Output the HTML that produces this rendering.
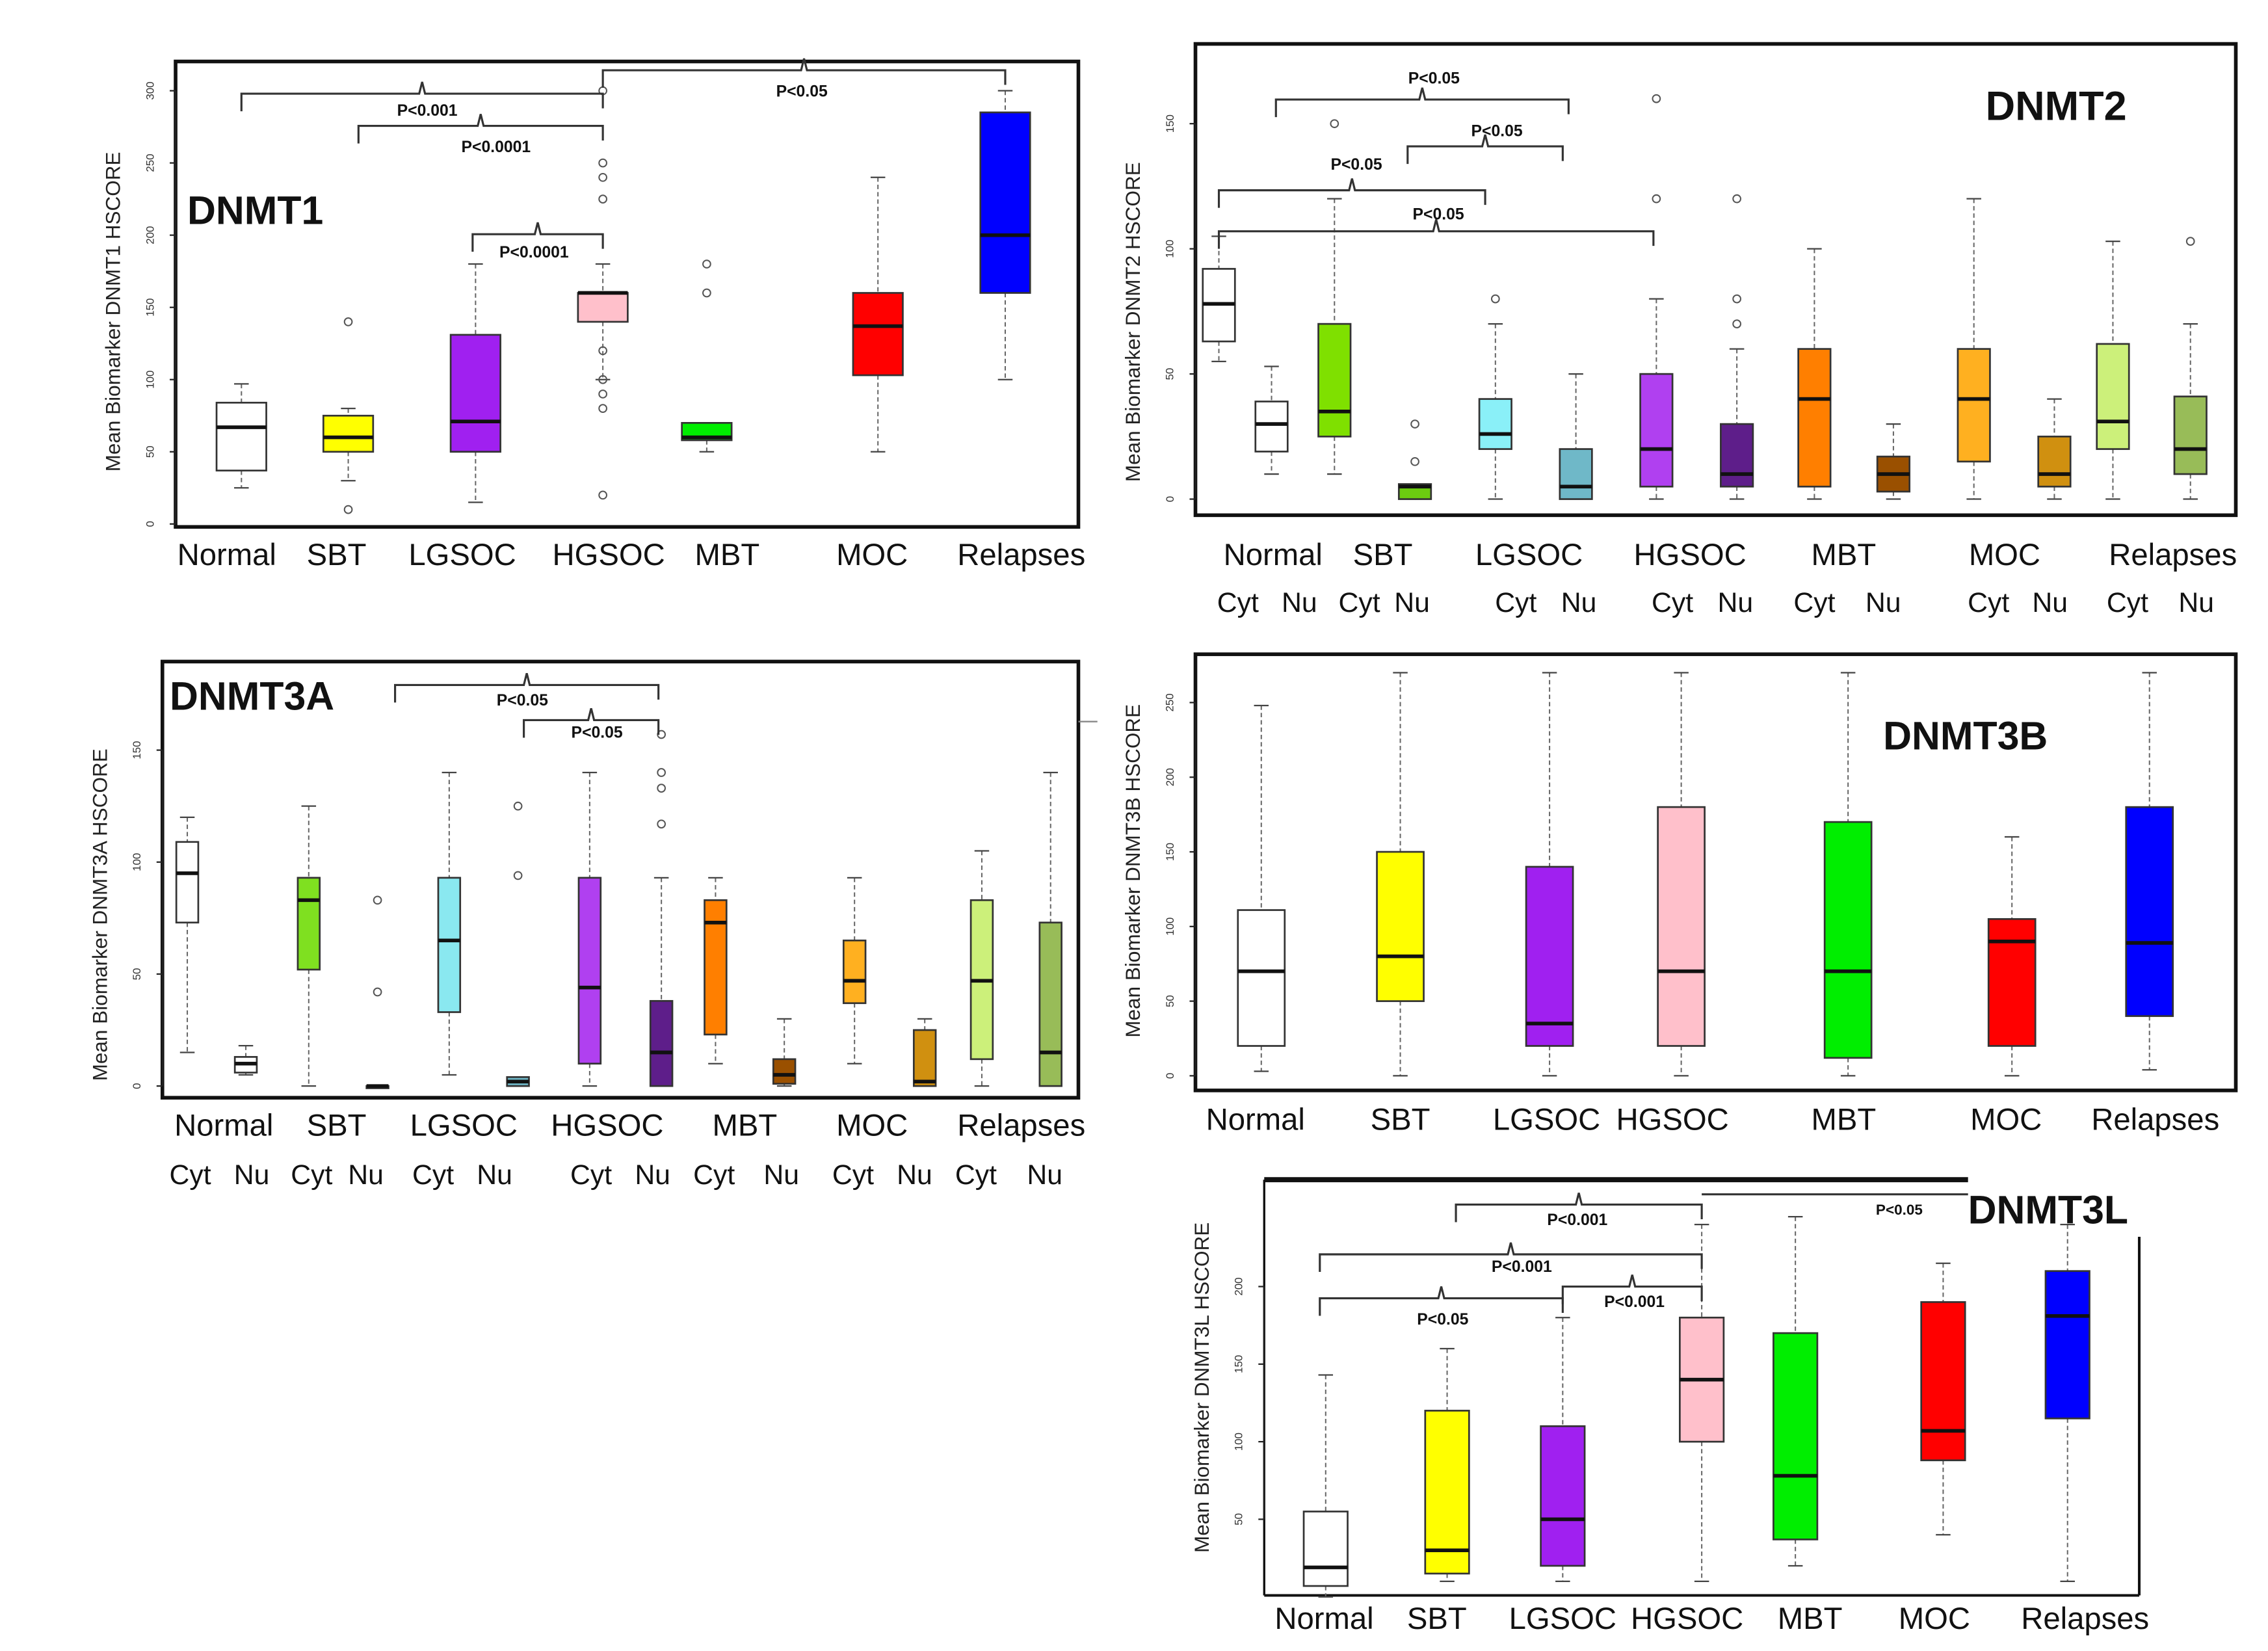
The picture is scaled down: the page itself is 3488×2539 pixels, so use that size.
<!DOCTYPE html>
<html><head><meta charset="utf-8">
<style>
html,body{margin:0;padding:0;background:#fff;}
svg{display:block;}
text{font-family:"Liberation Sans Narrow","Liberation Sans",sans-serif;}
</style></head>
<body>
<svg id="fig" xmlns="http://www.w3.org/2000/svg" width="3488" height="2539" viewBox="0 0 1550 1128" preserveAspectRatio="none">
<rect x="0" y="0" width="1550" height="1128" fill="#fff"/>
</svg>
<script>
// ---------- DNMT1 ----------
const d1Cats = ["Normal","SBT","LGSOC","HGSOC","MBT","MOC","Relapses"];
const d1Lo = [25,30,15,100,50,50,100];
const d1Q1 = [37,50,50,140,58,103,160];
const d1Med = [67,60,71,160,60,137,200];
const d1Q3 = [84,75,131,160,70,160,285];
const d1Hi = [97,80,180,180,70,240,300];
const d1Out = [[],[140,10],[],[300,250,240,225,120,100,90,80,20],[180,160],[],[]];
const d1Ticks = [0,50,100,150,200,250,300];
// ---------- DNMT2 ----------
const d2Cats = ["Normal Cyt","Normal Nu","SBT Cyt","SBT Nu","LGSOC Cyt","LGSOC Nu","HGSOC Cyt","HGSOC Nu","MBT Cyt","MBT Nu","MOC Cyt","MOC Nu","Relapses Cyt","Relapses Nu"];
const d2Lo = [55,10,10,0,0,0,0,0,0,0,0,0,0,0];
const d2Q1 = [63,19,25,0,20,0,5,5,5,3,15,5,20,10];
const d2Med = [78,30,35,5,26,5,20,10,40,10,40,10,31,20];
const d2Q3 = [92,39,70,6,40,20,50,30,60,17,60,25,62,41];
const d2Hi = [105,53,120,5,70,50,80,60,100,30,120,40,103,70];
const d2Out = [[],[],[150],[30,15],[80],[],[160,120],[120,80,70],[],[],[],[],[],[103]];
const d2Ticks = [0,50,100,150];
// ---------- DNMT3A ----------
const d3aCats = ["Normal Cyt","Normal Nu","SBT Cyt","SBT Nu","LGSOC Cyt","LGSOC Nu","HGSOC Cyt","HGSOC Nu","MBT Cyt","MBT Nu","MOC Cyt","MOC Nu","Relapses Cyt","Relapses Nu"];
const d3aLo = [15,5,0,0,5,0,0,0,10,0,10,0,0,0];
const d3aQ1 = [73,6,52,0,33,0,10,0,23,1,37,0,12,0];
const d3aMed = [95,10,83,0,65,2,44,15,73,5,47,2,47,15];
const d3aQ3 = [109,13,93,0,93,4,93,38,83,12,65,25,83,73];
const d3aHi = [120,18,125,0,140,3,140,93,93,30,93,30,105,140];
const d3aOut = [[],[],[],[83,42],[],[125,94],[],[157,140,133,117],[],[],[],[],[],[]];
const d3aTicks = [0,50,100,150];
// ---------- DNMT3B ----------
const d3bCats = ["Normal","SBT","LGSOC","HGSOC","MBT","MOC","Relapses"];
const d3bLo = [3,0,0,0,0,0,4];
const d3bQ1 = [20,50,20,20,12,20,40];
const d3bMed = [70,80,35,70,70,90,89];
const d3bQ3 = [111,150,140,180,170,105,180];
const d3bHi = [248,270,270,270,270,160,270];
const d3bTicks = [0,50,100,150,200,250];
// ---------- DNMT3L ----------
const d3lCats = ["Normal","SBT","LGSOC","HGSOC","MBT","MOC","Relapses"];
const d3lLo = [0,10,10,10,20,40,10];
const d3lQ1 = [7,15,20,100,37,88,115];
const d3lMed = [19,30,50,140,78,107,181];
const d3lQ3 = [55,120,110,180,170,190,210];
const d3lHi = [143,160,180,240,245,215,240];
const d3lTicks = [50,100,150,200];

const svg = document.getElementById('fig');
const NS = 'http://www.w3.org/2000/svg';
function el(tag, attrs, parent){
  const e = document.createElementNS(NS, tag);
  for (const k in attrs) e.setAttribute(k, attrs[k]);
  (parent||svg).appendChild(e);
  return e;
}
function txt(x,y,s,size,opts,parent){
  const t = el('text',Object.assign({x:x,y:y,'font-size':size,fill:'#111'},opts||{}),parent);
  t.textContent = s;
  return t;
}

function drawBoxes(g, cats, xs, lo, q1, med, q3, hi, outs, colors, w, yS, name){
  cats.forEach((c,i)=>{
    const bg = el('g',{},g);
    
    
    const x = xs[i];
    el('line',{x1:x,x2:x,y1:yS(hi[i]),y2:yS(q3[i]),stroke:'#666','stroke-width':0.9,'stroke-dasharray':'3,2'},bg);
    el('line',{x1:x,x2:x,y1:yS(q1[i]),y2:yS(lo[i]),stroke:'#666','stroke-width':0.9,'stroke-dasharray':'3,2'},bg);
    el('line',{x1:x-5,x2:x+5,y1:yS(hi[i]),y2:yS(hi[i]),stroke:'#444','stroke-width':1},bg);
    el('line',{x1:x-5,x2:x+5,y1:yS(lo[i]),y2:yS(lo[i]),stroke:'#444','stroke-width':1},bg);
    const top = yS(q3[i]), bot = yS(q1[i]);
    el('rect',{x:x-w/2,y:top,width:w,height:Math.max(bot-top,1.5),fill:colors[i],stroke:'#333','stroke-width':1.2},bg);
    el('line',{x1:x-w/2,x2:x+w/2,y1:yS(med[i]),y2:yS(med[i]),stroke:'#111','stroke-width':2.5},bg);
    if (outs) outs[i].forEach(v=>{
      el('circle',{cx:x,cy:yS(v),r:2.6,fill:'none',stroke:'#555','stroke-width':0.9},bg);
    });
  });
}
function yAxis(g, x, ticks, yS, title, ty){
  el('line',{x1:x,x2:x,y1:yS(ticks[0]),y2:yS(ticks[ticks.length-1]),stroke:'#222','stroke-width':1},g);
  ticks.forEach(t=>{
    el('line',{x1:x-4,x2:x,y1:yS(t),y2:yS(t),stroke:'#222','stroke-width':1},g);
    const tl = txt(x-15, yS(t), String(t), 7.5, {'text-anchor':'middle',transform:'rotate(-90 '+(x-15)+' '+yS(t)+')',fill:'#333'},g);
    
    
  });
  const tt = txt(0,0,title,14,{'text-anchor':'middle',transform:'translate('+(x-38)+','+ty+') rotate(-90)',fill:'#222',style:'font-family:"Liberation Sans",sans-serif'},g);
  
  
}
function bracket(g, x1, x2, y, label, lx, ly){
  const xm = (x1+x2)/2;
  el('path',{d:'M'+x1+' '+(y+12)+' L'+x1+' '+y+' L'+(xm-2)+' '+y+' L'+xm+' '+(y-8)+' L'+(xm+2)+' '+y+' L'+x2+' '+y+' L'+x2+' '+(y+10),fill:'none',stroke:'#333','stroke-width':1.4},g);
  const t = txt(lx,ly,label,11,{'text-anchor':'middle','font-weight':'bold'},g);
  
  
}
function labels(g, names, xs, y, size, nm){
  names.forEach((n,i)=>{
    const t = txt(xs[i], y, n, size, {'text-anchor':'middle'}, g);
    
    
  });
}

// ===== Panel DNMT1 =====
(function(){
  const g = el('g',{});
  
  
  const yS = v => 358 - v*(296/300);
  el('rect',{x:120,y:42,width:617,height:318,fill:'none',stroke:'#111','stroke-width':2.5},g);
  yAxis(g, 120, d1Ticks, yS, 'Mean Biomarker DNMT1 HSCORE', 213);
  drawBoxes(g,d1Cats,[165,238,325,412,483,600,687],d1Lo,d1Q1,d1Med,d1Q3,d1Hi,d1Out,['#fff','#ffff00','#a020f0','#ffc0cb','#00ee00','#ff0000','#0000ff'],34,yS,'dnmt1');
  labels(g,d1Cats,[155,230,316,416,497,596,698],386,21,'x-category-label');
  const t = txt(128,153,'DNMT1',27,{'font-weight':'bold',style:'font-family:"Liberation Sans",sans-serif'},g);
   
  bracket(g,165,412,64,'P<0.001',292,79);
  bracket(g,245,412,86,'P<0.0001',339,104);
  bracket(g,323,412,160,'P<0.0001',365,176);
  bracket(g,412,687,48,'P<0.05',548,66);
})();

// ===== Panel DNMT2 =====
(function(){
  const g = el('g',{});
  
  
  const yS = v => 341 - v*1.71;
  el('rect',{x:817,y:30,width:711,height:322,fill:'none',stroke:'#111','stroke-width':2.5},g);
  yAxis(g, 817, d2Ticks, yS, 'Mean Biomarker DNMT2 HSCORE', 220);
  const xs=[833,869,912,967,1022,1077,1132,1187,1240,1294,1349,1404,1444,1497];
  drawBoxes(g,d2Cats,xs,d2Lo,d2Q1,d2Med,d2Q3,d2Hi,d2Out,['#fff','#fff','#7fe000','#6ccc10','#8af0f8','#6fb8c8','#b040f0','#5e1e8a','#ff7f00','#9a5000','#ffb020','#d09010','#ccf07a','#98bc58'],22,yS,'dnmt2');
  labels(g,['Normal','SBT','LGSOC','HGSOC','MBT','MOC','Relapses'],[870,945,1045,1155,1260,1370,1485],386,21,'x-category-label');
  labels(g,['Cyt','Nu','Cyt','Nu','Cyt','Nu','Cyt','Nu','Cyt','Nu','Cyt','Nu','Cyt','Nu'],[846,888,929,965,1036,1079,1143,1186,1240,1287,1359,1401,1454,1501],418,19,'x-subcategory-label');
  const t = txt(1357,82,'DNMT2',28,{'font-weight':'bold',style:'font-family:"Liberation Sans",sans-serif'},g);
   
  bracket(g,872,1072,68,'P<0.05',980,57);
  bracket(g,962,1068,100,'P<0.05',1023,93);
  bracket(g,833,1015,130,'P<0.05',927,116);
  bracket(g,833,1130,158,'P<0.05',983,150);
})();

// ===== Panel DNMT3A =====
(function(){
  const g = el('g',{});
  
  
  const yS = v => 742 - v*1.53;
  el('rect',{x:111,y:452,width:626,height:298,fill:'none',stroke:'#111','stroke-width':2.5},g);
  yAxis(g, 111, d3aTicks, yS, 'Mean Biomarker DNMT3A HSCORE', 625);
  const xs=[128,168,211,258,307,354,403,452,489,536,584,632,671,718];
  drawBoxes(g,d3aCats,xs,d3aLo,d3aQ1,d3aMed,d3aQ3,d3aHi,d3aOut,['#fff','#fff','#7fe020','#333','#8ae8f0','#6fb8c8','#b040f0','#5e1e8a','#ff7f00','#9a5000','#ffb020','#d09010','#ccf07a','#98bc58'],15,yS,'dnmt3a');
  labels(g,['Normal','SBT','LGSOC','HGSOC','MBT','MOC','Relapses'],[153,230,317,415,509,596,698],776,21,'x-category-label');
  labels(g,['Cyt','Nu','Cyt','Nu','Cyt','Nu','Cyt','Nu','Cyt','Nu','Cyt','Nu','Cyt','Nu'],[130,172,213,250,296,338,404,446,488,534,583,625,667,714],809,19,'x-subcategory-label');
  const t = txt(116,485,'DNMT3A',27,{'font-weight':'bold',style:'font-family:"Liberation Sans",sans-serif'},g);
   
  bracket(g,270,450,468,'P<0.05',357,482);
  bracket(g,358,450,492,'P<0.05',408,504);
  el('line',{x1:737,x2:750,y1:493,y2:493,stroke:'#888','stroke-width':1},g);
})();

// ===== Panel DNMT3B =====
(function(){
  const g = el('g',{});
  
  
  const yS = v => 735 - v*1.02;
  el('rect',{x:817,y:447,width:711,height:298,fill:'none',stroke:'#111','stroke-width':2.5},g);
  yAxis(g, 817, d3bTicks, yS, 'Mean Biomarker DNMT3B HSCORE', 595);
  drawBoxes(g,d3bCats,[862,957,1059,1149,1263,1375,1469],d3bLo,d3bQ1,d3bMed,d3bQ3,d3bHi,null,['#fff','#ffff00','#a020f0','#ffc0cb','#00ee00','#ff0000','#0000ff'],32,yS,'dnmt3b');
  labels(g,d3bCats,[858,957,1057,1143,1260,1371,1473],772,21,'x-category-label');
  const t = txt(1287,512,'DNMT3B',27,{'font-weight':'bold',style:'font-family:"Liberation Sans",sans-serif'},g);
   
})();

// ===== Panel DNMT3L =====
(function(){
  const g = el('g',{});
  
  
  const yS = v => 1091 - v*1.06;
  el('line',{x1:864,x2:1345,y1:806,y2:806,stroke:'#111','stroke-width':3.5},g);
  el('line',{x1:864,x2:864,y1:806,y2:1090,stroke:'#111','stroke-width':1.5},g);
  el('line',{x1:864,x2:1462,y1:1090,y2:1090,stroke:'#111','stroke-width':1.8},g);
  el('line',{x1:1462,x2:1462,y1:845,y2:1090,stroke:'#111','stroke-width':1.8},g);
  yAxis(g, 864, d3lTicks, yS, 'Mean Biomarker DNMT3L HSCORE', 948);
  drawBoxes(g,d3lCats,[906,989,1068,1163,1227,1328,1413],d3lLo,d3lQ1,d3lMed,d3lQ3,d3lHi,null,['#fff','#ffff00','#a020f0','#ffc0cb','#00ee00','#ff0000','#0000ff'],30,yS,'dnmt3l');
  labels(g,d3lCats,[905,982,1068,1153,1237,1322,1425],1113,21,'x-category-label');
  const t = txt(1345,836,'DNMT3L',27,{'font-weight':'bold',style:'font-family:"Liberation Sans",sans-serif'},g);
   
  bracket(g,995,1163,823,'P<0.001',1078,837);
  el('line',{x1:1163,x2:1345,y1:816,y2:816,stroke:'#333','stroke-width':1.4},g);
  txt(1298,830,'P<0.05',10,{'text-anchor':'middle','font-weight':'bold'},g);
  bracket(g,902,1163,857,'P<0.001',1040,869);
  bracket(g,902,1068,887,'P<0.05',986,905);
  bracket(g,1068,1163,879,'P<0.001',1117,893);
})();
</script>
</body></html>
